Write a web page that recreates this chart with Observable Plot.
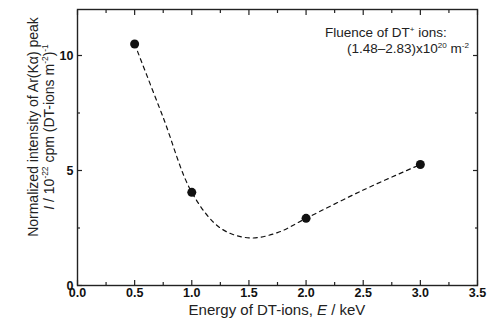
<!DOCTYPE html>
<html><head><meta charset="utf-8">
<script src="https://cdn.jsdelivr.net/npm/d3@7"></script>
<script src="https://cdn.jsdelivr.net/npm/@observablehq/plot@0.6"></script>
<style>body{margin:0;background:#fff}</style>
</head><body><div id="chart"></div>
<script>
// measured points
const energy = [0.5, 1.0, 2.0, 3.0];
const intensity = [10.5, 4.05, 2.92, 5.26];
// dashed guide curve
const fitEnergy = [0.5, 0.75, 1.0, 1.25, 1.5, 1.75, 2.0, 2.5, 3.0];
const fitIntensity = [10.5, 7.3, 4.05, 2.5, 2.07, 2.3, 2.92, 4.15, 5.26];
// ticks
const xMajor = [0, 0.5, 1.0, 1.5, 2.0, 2.5, 3.0, 3.5];
const xTickLabels = ["0.0", "0.5", "1.0", "1.5", "2.0", "2.5", "3.0", "3.5"];
const xMinor = [0.25, 0.75, 1.25, 1.75, 2.25, 2.75, 3.25];
const yMajor = [0, 5, 10];
const yTickLabels = ["0", "5", "10"];
const yMinor = [2.5, 7.5];

const points = energy.map((e, i) => ({e, v: intensity[i]}));
const fit = fitEnergy.map((e, i) => ({e, v: fitIntensity[i]}));

const font = "'Liberation Sans', Arial, Helvetica, sans-serif";
const tickStyle = {stroke: "#222", strokeWidth: 1.2, text: null, label: null};

const plot = Plot.plot({
  width: 497, height: 331,
  marginLeft: 77, marginRight: 20, marginTop: 9, marginBottom: 46,
  x: {domain: [0, 3.5]},
  y: {domain: [0, 12]},
  style: {fontFamily: font, color: "#111", background: "#fff"},
  marks: [
    Plot.axisX(xMajor, {...tickStyle, anchor: "bottom", tickSize: -5}),
    Plot.axisX(xMinor, {...tickStyle, anchor: "bottom", tickSize: -3}),
    Plot.axisX(xMajor, {...tickStyle, anchor: "top", tickSize: -5}),
    Plot.axisX(xMinor, {...tickStyle, anchor: "top", tickSize: -3}),
    Plot.axisY(yMajor, {...tickStyle, anchor: "left", tickSize: -5}),
    Plot.axisY(yMinor, {...tickStyle, anchor: "left", tickSize: -3}),
    Plot.axisY(yMajor, {...tickStyle, anchor: "right", tickSize: -5}),
    Plot.axisY(yMinor, {...tickStyle, anchor: "right", tickSize: -3}),
    Plot.axisX(xMajor, {anchor: "bottom", tickSize: 0, tickPadding: 3, label: null,
      tickFormat: d => xTickLabels[xMajor.indexOf(d)], fontWeight: "bold", fontSize: 12.5, fill: "#111"}),
    Plot.axisY(yMajor, {anchor: "left", tickSize: 0, tickPadding: 4, label: null,
      tickFormat: d => yTickLabels[yMajor.indexOf(d)], fontWeight: "bold", fontSize: 12.5, fill: "#111"}),
    Plot.frame({stroke: "#222", strokeWidth: 1.4}),
    Plot.line(fit, {x: "e", y: "v", curve: "catmull-rom", stroke: "#111", strokeWidth: 1.2, strokeDasharray: "4,4"}),
    Plot.dot(points, {x: "e", y: "v", r: 4.5, fill: "#111", stroke: "none"})
  ]
});

document.getElementById("chart").appendChild(plot);
const svg = d3.select(plot);

function rich(textSel, segs, size) {
  let pending = 0;
  segs.forEach(([t, kind]) => {
    const ts = textSel.append("tspan");
    if (kind === "sup") {
      const shift = size * 0.4;
      ts.attr("font-size", size * 0.6).attr("dy", -shift + pending);
      pending = shift;
    } else {
      if (pending) ts.attr("dy", pending);
      pending = 0;
      if (kind === "it") ts.attr("font-style", "italic");
    }
    ts.text(t);
  });
}

// x label
const xl = svg.append("text").attr("x", 277).attr("y", 315)
  .attr("text-anchor", "middle").attr("font-family", font).attr("font-size", 15).attr("fill", "#222");
rich(xl, [["Energy of DT-ions, "], ["E", "it"], [" / keV"]], 15);

// y label (two lines)
const yg = svg.append("g").attr("transform", "rotate(-90)");
const yl1 = yg.append("text").attr("x", -127).attr("y", 37.5)
  .attr("text-anchor", "middle").attr("font-family", font).attr("font-size", 14).attr("fill", "#222");
rich(yl1, [["Normalized intensity of Ar(K\u03B1) peak"]], 14);
const yl2 = yg.append("text").attr("x", -127).attr("y", 54)
  .attr("text-anchor", "middle").attr("font-family", font).attr("font-size", 14).attr("fill", "#222");
rich(yl2, [["I", "it"], [" / 10"], ["-22", "sup"], [" cpm (DT-ions m"], ["-2", "sup"], [")"], ["-1", "sup"]], 14);

// annotation
const a1 = svg.append("text").attr("x", 325).attr("y", 37).attr("text-anchor", "start")
  .attr("font-family", font).attr("font-size", 13.5).attr("fill", "#222");
rich(a1, [["Fluence of DT"], ["+", "sup"], [" ions:"]], 13.5);
const a2 = svg.append("text").attr("x", 469).attr("y", 53).attr("text-anchor", "end")
  .attr("font-family", font).attr("font-size", 13.5).attr("fill", "#222");
rich(a2, [["(1.48\u20132.83)x10"], ["20", "sup"], [" m"], ["-2", "sup"]], 13.5);
</script>
</body></html>
